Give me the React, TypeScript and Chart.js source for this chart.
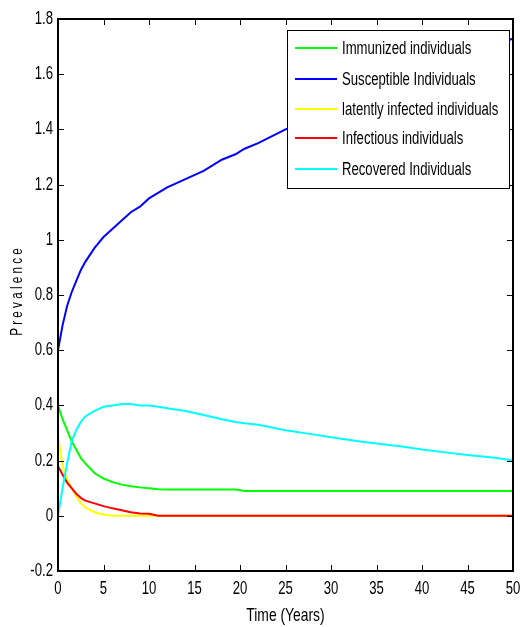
import React, { useEffect, useRef } from "react";
import { Chart, registerables } from "chart.js";

Chart.register(...registerables);

const time = [0, 0.5, 1, 1.5, 2, 2.5, 3, 4, 5, 6, 7, 8, 9, 10, 11, 12, 14, 16, 18, 19.5, 20.5, 22, 25, 28, 30, 33, 35, 38, 40, 43, 45, 48, 50];
const immunized = [0.40, 0.35, 0.31, 0.27, 0.24, 0.21, 0.19, 0.155, 0.135, 0.122, 0.113, 0.107, 0.103, 0.10, 0.096, 0.095, 0.095, 0.095, 0.095, 0.095, 0.09, 0.09, 0.09, 0.09, 0.09, 0.09, 0.09, 0.09, 0.09, 0.09, 0.09, 0.09, 0.09];
const susceptible = [0.60, 0.69, 0.76, 0.81, 0.85, 0.89, 0.92, 0.97, 1.01, 1.04, 1.07, 1.10, 1.12, 1.15, 1.17, 1.19, 1.22, 1.25, 1.29, 1.31, 1.33, 1.35, 1.40, 1.44, 1.47, 1.51, 1.54, 1.58, 1.61, 1.65, 1.67, 1.70, 1.73];
const latent = [0.29, 0.18, 0.13, 0.10, 0.07, 0.045, 0.03, 0.013, 0.005, 0, 0, 0, 0, 0, 0, 0, 0, 0, 0, 0, 0, 0, 0, 0, 0, 0, 0, 0, 0, 0, 0, 0, 0];
const infectious = [0.18, 0.15, 0.12, 0.10, 0.08, 0.065, 0.055, 0.045, 0.035, 0.027, 0.02, 0.013, 0.008, 0.007, 0, 0, 0, 0, 0, 0, 0, 0, 0, 0, 0, 0, 0, 0, 0, 0, 0, 0, 0];
const recovered = [0, 0.10, 0.19, 0.27, 0.31, 0.34, 0.36, 0.38, 0.395, 0.40, 0.405, 0.405, 0.40, 0.40, 0.395, 0.39, 0.38, 0.365, 0.35, 0.34, 0.335, 0.33, 0.31, 0.295, 0.285, 0.27, 0.262, 0.25, 0.24, 0.228, 0.22, 0.21, 0.20];

const seriesLabels = ["Immunized individuals", "Susceptible Individuals", "latently infected individuals", "Infectious individuals", "Recovered Individuals"];
const seriesColors = ["#00ff00", "#0000ff", "#ffff00", "#ff0000", "#00ffff"];
const seriesValues = [immunized, susceptible, latent, infectious, recovered];

const xTitle = "Time (Years)";
const yTitle = "P r e v a l e n c e";

const FONT = "'Liberation Sans', Arial, sans-serif";
const SX = 0.73; // horizontal condensation of text

function condensedText(ctx: any, text: string, x: number, y: number, size: number, align: "left" | "right" | "center", rot = 0) {
  ctx.save();
  ctx.translate(x, y);
  if (rot) ctx.rotate(rot);
  ctx.scale(SX, 1);
  ctx.font = `${size}px ${FONT}`;
  ctx.textAlign = align;
  ctx.textBaseline = "middle";
  ctx.fillStyle = "#000";
  ctx.fillText(text, 0, 0);
  ctx.restore();
}

const fmt = (v: number) => String(Math.round(v * 10) / 10);

const framePlugin = {
  id: "matlabFrame",
  afterDatasetsDraw(chart: any) {
    const { ctx, chartArea: a, scales } = chart;
    ctx.save();
    ctx.strokeStyle = "#000";
    ctx.lineWidth = 2;
    ctx.strokeRect(a.left, a.top, a.right - a.left, a.bottom - a.top);
    ctx.lineWidth = 1;
    ctx.beginPath();
    const tl = 6;
    scales.x.ticks.forEach((t: any) => {
      const px = Math.round(scales.x.getPixelForValue(t.value)) + 0.5;
      ctx.moveTo(px, a.bottom); ctx.lineTo(px, a.bottom - tl);
      ctx.moveTo(px, a.top); ctx.lineTo(px, a.top + tl);
    });
    scales.y.ticks.forEach((t: any) => {
      const py = Math.round(scales.y.getPixelForValue(t.value)) + 0.5;
      ctx.moveTo(a.left, py); ctx.lineTo(a.left + tl, py);
      ctx.moveTo(a.right, py); ctx.lineTo(a.right - tl, py);
    });
    ctx.stroke();

    // tick labels and axis titles
    scales.x.ticks.forEach((t: any) => {
      condensedText(ctx, fmt(t.value), scales.x.getPixelForValue(t.value), a.bottom + 18, 18, "center");
    });
    scales.y.ticks.forEach((t: any) => {
      condensedText(ctx, fmt(t.value), a.left - 5, scales.y.getPixelForValue(t.value), 18, "right");
    });
    condensedText(ctx, xTitle, (a.left + a.right) / 2, 616, 19, "center");
    condensedText(ctx, yTitle, 18, (a.top + a.bottom) / 2 - 3, 16, "center", -Math.PI / 2);

    // legend
    const bx = 287, by = 30, bw = 222, bh = 158;
    ctx.fillStyle = "#fff";
    ctx.fillRect(bx, by, bw, bh);
    ctx.strokeStyle = "#000";
    ctx.lineWidth = 1;
    ctx.strokeRect(bx + 0.5, by + 0.5, bw, bh);
    const rows = [48, 79, 109, 138, 169];
    chart.data.datasets.forEach((ds: any, i: number) => {
      const y = rows[i];
      ctx.strokeStyle = ds.borderColor;
      ctx.lineWidth = 2;
      ctx.beginPath();
      ctx.moveTo(295, y); ctx.lineTo(337, y);
      ctx.stroke();
      condensedText(ctx, ds.label, 342, y + 1, 18, "left");
    });
    ctx.restore();
  },
};

export default function App() {
  const ref = useRef<HTMLCanvasElement>(null);
  useEffect(() => {
    document.body.style.margin = "0";
    const datasets = seriesLabels.map((label, i) => ({
      label,
      data: time.map((t, j) => ({ x: t, y: seriesValues[i][j] })),
      borderColor: seriesColors[i],
      backgroundColor: seriesColors[i],
      borderWidth: 2,
      pointRadius: 0,
      tension: 0,
      fill: false,
      order: 5 - i,
    }));
    const chart = new Chart(ref.current!, {
      type: "line",
      data: { datasets },
      options: {
        animation: false,
        responsive: false,
        devicePixelRatio: 1,
        layout: { padding: { top: 19, right: 7, left: 0, bottom: 0 } },
        plugins: { legend: { display: false }, tooltip: { enabled: false } },
        scales: {
          x: {
            type: "linear",
            min: 0,
            max: 50,
            ticks: { stepSize: 5, display: false },
            grid: { display: false, drawTicks: false },
            border: { display: false },
            title: { display: false },
            afterFit: (s: any) => { s.height = 56; s.paddingLeft = 0; s.paddingRight = 0; },
          },
          y: {
            min: -0.2,
            max: 1.8,
            ticks: { stepSize: 0.2, display: false },
            grid: { display: false, drawTicks: false },
            border: { display: false },
            title: { display: false },
            afterFit: (s: any) => { s.width = 58; s.paddingTop = 0; s.paddingBottom = 0; },
          },
        },
      },
      plugins: [framePlugin],
    } as any);
    return () => chart.destroy();
  }, []);
  return <canvas ref={ref} width={520} height={627} style={{ display: "block" }} />;
}
